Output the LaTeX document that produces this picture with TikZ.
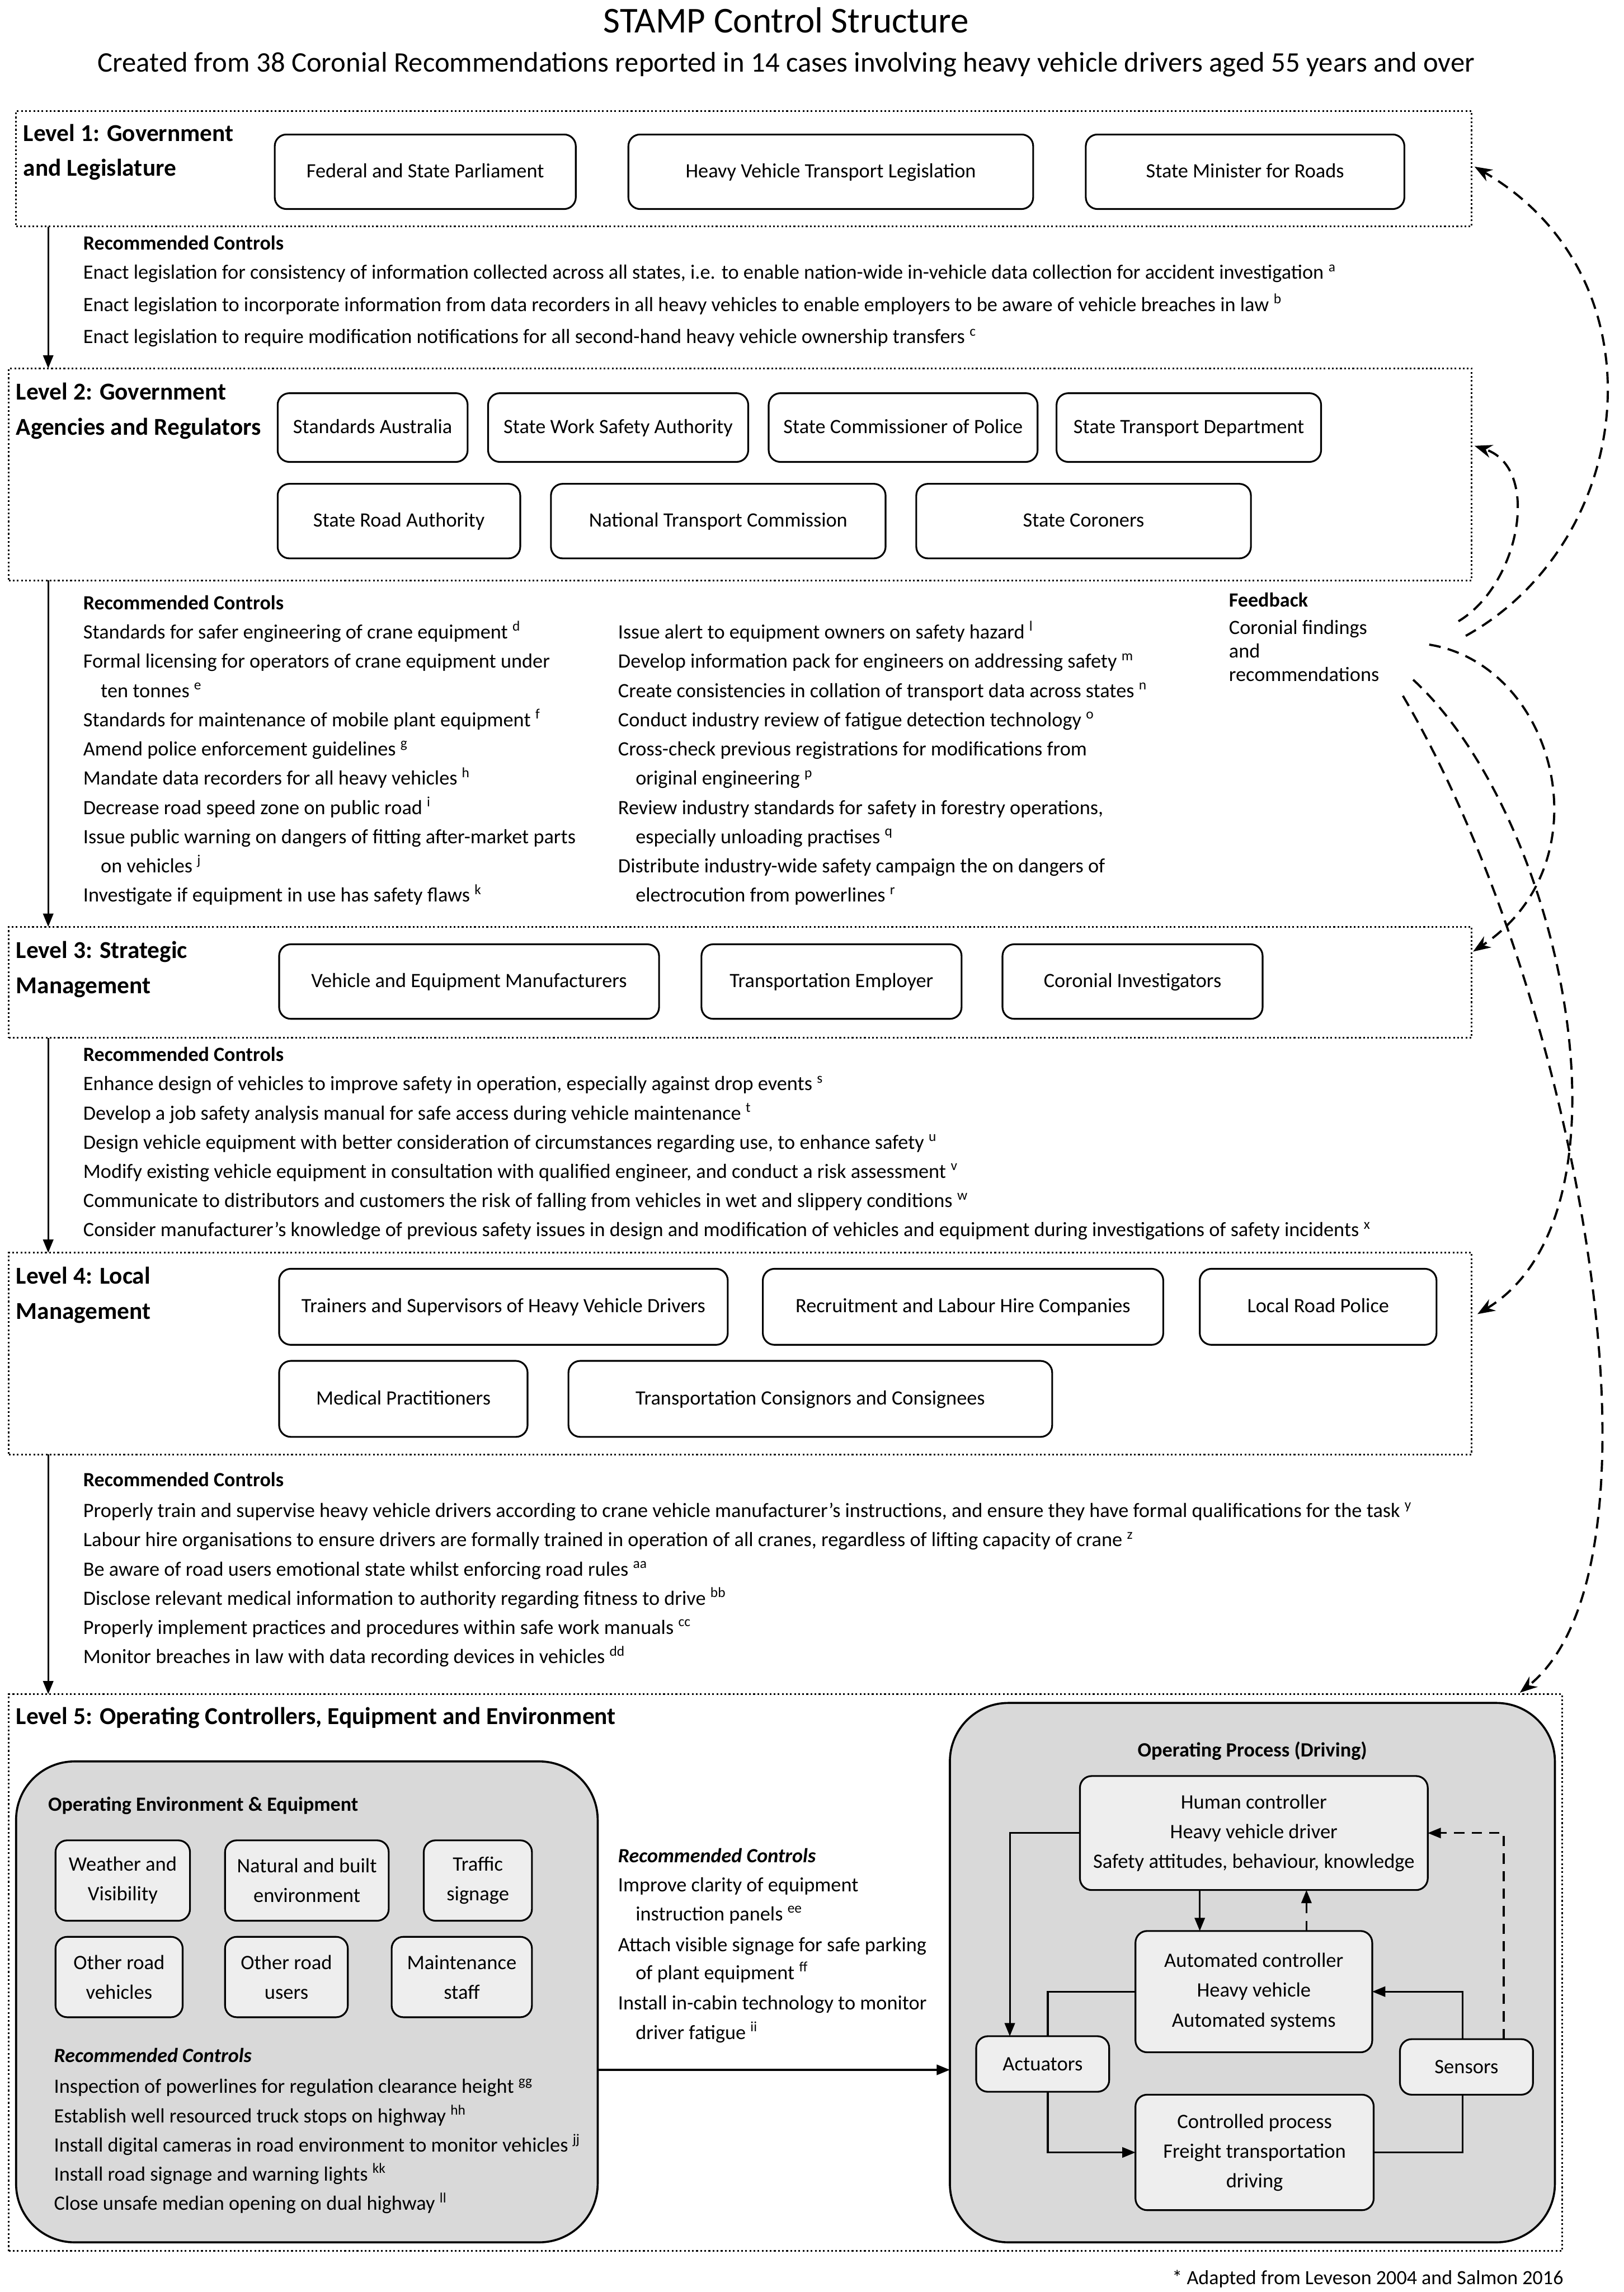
\documentclass[tikz,border=0pt]{standalone}
\usepackage{fontspec}
\setmainfont{Carlito}
\usetikzlibrary{arrows.meta}
\definecolor{envgray}{RGB}{217,217,217}
\definecolor{boxgray}{RGB}{238,238,238}
\newcommand\bxn[7]{\node[#2, minimum width={#5-#3}, minimum height={#6-#4}] (#1) at ({(#3+#5)/2},{(#4+#6)/2}) {#7};}
\begin{document}
\begin{tikzpicture}[x=1pt,y=-1pt,
  lvlbox/.style={draw, line width=1.2pt, dash pattern=on 1.2pt off 1.6pt, inner sep=0, outer sep=0},
  rb/.style={draw, rounded corners=8pt, line width=1.2pt, inner sep=0, outer sep=0, align=center, text height=10.5pt, text depth=2.5pt, font=\fontsize{13.9}{16}\selectfont},
  gb/.style={draw, rounded corners=8pt, line width=1.2pt, inner sep=0, outer sep=0, align=center, fill=boxgray, font=\fontsize{14}{20.3}\selectfont},
  big/.style={draw, rounded corners=40pt, line width=1.4pt, fill=envgray, inner sep=0, outer sep=0},
  txt/.style={anchor=west, inner sep=0, outer sep=0, text height=10.5pt, text depth=2.5pt, font=\fontsize{13.9}{16}\selectfont},
  btxt/.style={txt, font=\fontsize{13.8}{16}\selectfont\bfseries},
  lvltxt/.style={txt, text height=12.5pt, text depth=3.5pt, font=\fontsize{16.6}{20}\selectfont\bfseries},
  arr/.style={line width=1.2pt, -{Triangle[length=9pt,width=7pt]}},
  ln/.style={line width=1.2pt},
  fb/.style={line width=1.5pt, dash pattern=on 8pt off 5pt, -{Stealth[length=12pt,width=9pt]}},
  dsh/.style={dash pattern=on 7pt off 5pt}
]
\useasboundingbox (0,0) rectangle (1111,1568);

% Titles
\node[inner sep=0, font=\fontsize{24.9}{29}\selectfont] (title) at (538,14) {STAMP Control Structure};
\node[inner sep=0, font=\fontsize{19.4}{23}\selectfont] (subtitle) at (538,44) {Created from 38 Coronial Recommendations reported in 14 cases involving heavy vehicle drivers aged 55 years and over};

% ---------------- Level 1
\bxn{L1}{lvlbox}{11}{76}{1007}{155}{}
\node[lvltxt] (l1a) at (16,92) {Level 1: Government};
\node[lvltxt] (l1b) at (16,116) {and Legislature};
\bxn{fsp}{rb}{188}{92}{394}{143}{Federal and State Parliament}
\bxn{hvtl}{rb}{430}{92}{707}{143}{Heavy Vehicle Transport Legislation}
\bxn{smr}{rb}{743}{92}{961}{143}{State Minister for Roads}

\node[btxt] (rc1) at (57,167) {Recommended Controls};
\node[txt] (r1a) at (57,187) {Enact legislation for consistency of information collected across all states, i.e. to enable nation-wide in-vehicle data collection for accident investigation \textsuperscript{a}};
\node[txt] (r1b) at (57,209) {Enact legislation to incorporate information from data recorders in all heavy vehicles to enable employers to be aware of vehicle breaches in law \textsuperscript{b}};
\node[txt] (r1c) at (57,231) {Enact legislation to require modification notifications for all second-hand heavy vehicle ownership transfers \textsuperscript{c}};

% ---------------- Level 2
\bxn{L2}{lvlbox}{6}{252}{1007}{397}{}
\node[lvltxt] (l2a) at (11,269) {Level 2: Government};
\node[lvltxt] (l2b) at (11,293) {Agencies and Regulators};
\bxn{sa}{rb}{190}{269}{320}{316}{Standards Australia}
\bxn{swsa}{rb}{334}{269}{512}{316}{State Work Safety Authority}
\bxn{scp}{rb}{526}{269}{710}{316}{State Commissioner of Police}
\bxn{std}{rb}{723}{269}{904}{316}{State Transport Department}
\bxn{sra}{rb}{190}{331}{356}{382}{State Road Authority}
\bxn{ntc}{rb}{377}{331}{606}{382}{National Transport Commission}
\bxn{sc}{rb}{627}{331}{856}{382}{State Coroners}

\node[btxt] (rc2) at (57,413) {Recommended Controls};
\node[txt] (r2a) at (57,433) {Standards for safer engineering of crane equipment \textsuperscript{d}};
\node[txt] (r2b) at (57,453) {Formal licensing for operators of crane equipment under};
\node[txt] (r2c) at (69,473) {ten tonnes \textsuperscript{e}};
\node[txt] (r2d) at (57,493) {Standards for maintenance of mobile plant equipment \textsuperscript{f}};
\node[txt] (r2e) at (57,513) {Amend police enforcement guidelines \textsuperscript{g}};
\node[txt] (r2f) at (57,533) {Mandate data recorders for all heavy vehicles \textsuperscript{h}};
\node[txt] (r2g) at (57,553) {Decrease road speed zone on public road \textsuperscript{i}};
\node[txt] (r2h) at (57,573) {Issue public warning on dangers of fitting after-market parts};
\node[txt] (r2i) at (69,593) {on vehicles \textsuperscript{j}};
\node[txt] (r2j) at (57,613) {Investigate if equipment in use has safety flaws \textsuperscript{k}};
\node[txt] (r2k) at (423,433) {Issue alert to equipment owners on safety hazard \textsuperscript{l}};
\node[txt] (r2l) at (423,453) {Develop information pack for engineers on addressing safety \textsuperscript{m}};
\node[txt] (r2m) at (423,473) {Create consistencies in collation of transport data across states \textsuperscript{n}};
\node[txt] (r2n) at (423,493) {Conduct industry review of fatigue detection technology \textsuperscript{o}};
\node[txt] (r2o) at (423,513) {Cross-check previous registrations for modifications from};
\node[txt] (r2p) at (435,533) {original engineering \textsuperscript{p}};
\node[txt] (r2q) at (423,553) {Review industry standards for safety in forestry operations,};
\node[txt] (r2r) at (435,573) {especially unloading practises \textsuperscript{q}};
\node[txt] (r2s) at (423,593) {Distribute industry-wide safety campaign the on dangers of};
\node[txt] (r2t) at (435,613) {electrocution from powerlines \textsuperscript{r}};

\node[btxt] (fbh) at (841,411) {Feedback};
\node[txt] (fb1t) at (841,430) {Coronial findings};
\node[txt] (fb2t) at (841,446) {and};
\node[txt] (fb3t) at (841,462) {recommendations};

% ---------------- Level 3
\bxn{L3}{lvlbox}{6}{634}{1007}{710}{}
\node[lvltxt] (l3a) at (11,651) {Level 3: Strategic};
\node[lvltxt] (l3b) at (11,675) {Management};
\bxn{vem}{rb}{191}{646}{451}{697}{Vehicle and Equipment Manufacturers}
\bxn{te}{rb}{480}{646}{658}{697}{Transportation Employer}
\bxn{ci}{rb}{686}{646}{864}{697}{Coronial Investigators}

\node[btxt] (rc3) at (57,722) {Recommended Controls};
\node[txt] (r3a) at (57,742) {Enhance design of vehicles to improve safety in operation, especially against drop events \textsuperscript{s}};
\node[txt] (r3b) at (57,762) {Develop a job safety analysis manual for safe access during vehicle maintenance \textsuperscript{t}};
\node[txt] (r3c) at (57,782) {Design vehicle equipment with better consideration of circumstances regarding use, to enhance safety \textsuperscript{u}};
\node[txt] (r3d) at (57,802) {Modify existing vehicle equipment in consultation with qualified engineer, and conduct a risk assessment \textsuperscript{v}};
\node[txt] (r3e) at (57,822) {Communicate to distributors and customers the risk of falling from vehicles in wet and slippery conditions \textsuperscript{w}};
\node[txt] (r3f) at (57,842) {Consider manufacturer’s knowledge of previous safety issues in design and modification of vehicles and equipment during investigations of safety incidents \textsuperscript{x}};

% ---------------- Level 4
\bxn{L4}{lvlbox}{6}{857}{1007}{995}{}
\node[lvltxt] (l4a) at (11,874) {Level 4: Local};
\node[lvltxt] (l4b) at (11,898) {Management};
\bxn{tshvd}{rb}{191}{868}{498}{920}{Trainers and Supervisors of Heavy Vehicle Drivers}
\bxn{rlhc}{rb}{522}{868}{796}{920}{Recruitment and Labour Hire Companies}
\bxn{lrp}{rb}{821}{868}{983}{920}{Local Road Police}
\bxn{mp}{rb}{191}{931}{361}{983}{Medical Practitioners}
\bxn{tcc}{rb}{389}{931}{720}{983}{Transportation Consignors and Consignees}

\node[btxt] (rc4) at (57,1013) {Recommended Controls};
\node[txt] (r4a) at (57,1034) {Properly train and supervise heavy vehicle drivers according to crane vehicle manufacturer’s instructions, and ensure they have formal qualifications for the task \textsuperscript{y}};
\node[txt] (r4b) at (57,1054) {Labour hire organisations to ensure drivers are formally trained in operation of all cranes, regardless of lifting capacity of crane \textsuperscript{z}};
\node[txt] (r4c) at (57,1074) {Be aware of road users emotional state whilst enforcing road rules \textsuperscript{aa}};
\node[txt] (r4d) at (57,1094) {Disclose relevant medical information to authority regarding fitness to drive \textsuperscript{bb}};
\node[txt] (r4e) at (57,1114) {Properly implement practices and procedures within safe work manuals \textsuperscript{cc}};
\node[txt] (r4f) at (57,1134) {Monitor breaches in law with data recording devices in vehicles \textsuperscript{dd}};

% ---------------- Level 5
\bxn{L5}{lvlbox}{6}{1159}{1069}{1540}{}
\node[lvltxt] (l5a) at (11,1175) {Level 5: Operating Controllers, Equipment and Environment};

\bxn{env}{big}{11}{1205}{409}{1534}{}
\node[btxt] (envt) at (33,1235) {Operating Environment \& Equipment};
\bxn{wv}{gb}{38}{1259}{130}{1314}{Weather and\\Visibility}
\bxn{nbe}{gb}{154}{1259}{266}{1314}{Natural and built\\environment}
\bxn{ts}{gb}{290}{1259}{364}{1314}{Traffic\\signage}
\bxn{orv}{gb}{38}{1325}{125}{1380}{Other road\\vehicles}
\bxn{oru}{gb}{154}{1325}{238}{1380}{Other road\\users}
\bxn{ms}{gb}{268}{1325}{364}{1380}{Maintenance\\staff}
\node[btxt, font=\fontsize{13.8}{16}\selectfont\bfseries\itshape] (rc5a) at (37,1407) {Recommended Controls};
\node[txt] (r5a) at (37,1428) {Inspection of powerlines for regulation clearance height \textsuperscript{gg}};
\node[txt] (r5b) at (37,1448) {Establish well resourced truck stops on highway \textsuperscript{hh}};
\node[txt] (r5c) at (37,1468) {Install digital cameras in road environment to monitor vehicles \textsuperscript{jj}};
\node[txt] (r5d) at (37,1488) {Install road signage and warning lights \textsuperscript{kk}};
\node[txt] (r5e) at (37,1508) {Close unsafe median opening on dual highway \textsuperscript{ll}};

\node[btxt, font=\fontsize{13.8}{16}\selectfont\bfseries\itshape] (rc5b) at (423,1270) {Recommended Controls};
\node[txt] (r5f) at (423,1290) {Improve clarity of equipment};
\node[txt] (r5g) at (435,1310) {instruction panels \textsuperscript{ee}};
\node[txt] (r5h) at (423,1331) {Attach visible signage for safe parking};
\node[txt] (r5i) at (435,1350) {of plant equipment \textsuperscript{ff}};
\node[txt] (r5j) at (423,1371) {Install in-cabin technology to monitor};
\node[txt] (r5k) at (435,1391) {driver fatigue \textsuperscript{ii}};

\bxn{proc}{big}{650}{1165}{1064}{1534}{}
\node[inner sep=0, font=\fontsize{13.9}{16}\selectfont\bfseries] (proct) at (857,1198) {Operating Process (Driving)};
\bxn{hc}{gb}{739}{1215}{977}{1293}{Human controller\\Heavy vehicle driver\\Safety attitudes, behaviour, knowledge}
\bxn{ac}{gb}{777}{1321}{939}{1404}{Automated controller\\Heavy vehicle\\Automated systems}
\bxn{act}{gb}{668}{1393}{759}{1431}{Actuators}
\bxn{sens}{gb}{958}{1395}{1049}{1433}{Sensors}
\bxn{cp}{gb}{777}{1433}{940}{1512}{Controlled process\\Freight transportation\\driving}

\node[anchor=east, inner sep=0, font=\fontsize{13.8}{16}\selectfont] (foot) at (1070,1559) {* Adapted from Leveson 2004 and Salmon 2016};

% ---------------- Downward control arrows
\coordinate (ax) at (33,0);
\draw[arr] (ax |- L1.south) -- (ax |- L2.north);
\draw[arr] (ax |- L2.south) -- (ax |- L3.north);
\draw[arr] (ax |- L3.south) -- (ax |- L4.north);
\draw[arr] (ax |- L4.south) -- (ax |- L5.north);

% env -> process
\coordinate (ay) at (0,1416);
\draw[arr] (env.east |- ay) -- (proc.west |- ay);

% driving loop
\coordinate (c691) at (691,0);
\coordinate (c717) at (717,0);
\coordinate (c821) at (821,0);
\coordinate (c894) at (894,0);
\coordinate (c1001) at (1001,0);
\coordinate (c1029) at (1029,0);
\draw[arr] (hc.west) -| (c691 |- act.north);
\draw[arr] (c821 |- hc.south) -- (c821 |- ac.north);
\draw[arr, dsh] (c894 |- ac.north) -- (c894 |- hc.south);
\draw[ln] (ac.west) -| (c717 |- act.north);
\draw[arr] (c717 |- act.south) |- (cp.west);
\draw[ln] (cp.east) -| (c1001 |- sens.south);
\draw[arr] (c1001 |- sens.north) |- (ac.east);
\draw[arr, dsh] (c1029 |- sens.north) |- (hc.east);

% ---------------- Feedback curves
\coordinate (s1) at (1003,435);
\coordinate (s2) at (998,425);
\coordinate (s3) at (978,441);
\coordinate (s4) at (967,465);
\coordinate (s5) at (960,476);
\coordinate (e1) at (1009,114);
\coordinate (e2) at (1009,305);
\coordinate (e3) at (1008,651);
\coordinate (e4) at (1011,899);
\coordinate (e5) at (1040,1158);
\draw[fb] (s1) .. controls (1120,370) and (1140,190) .. (e1);
\draw[fb] (s2) .. controls (1040,400) and (1055,320) .. (e2);
\draw[fb] (s3) .. controls (1065,455) and (1100,590) .. (e3);
\draw[fb] (s4) .. controls (1070,560) and (1125,830) .. (e4);
\draw[fb] (s5) .. controls (1080,680) and (1150,1070) .. (e5);
\end{tikzpicture}
\end{document}
